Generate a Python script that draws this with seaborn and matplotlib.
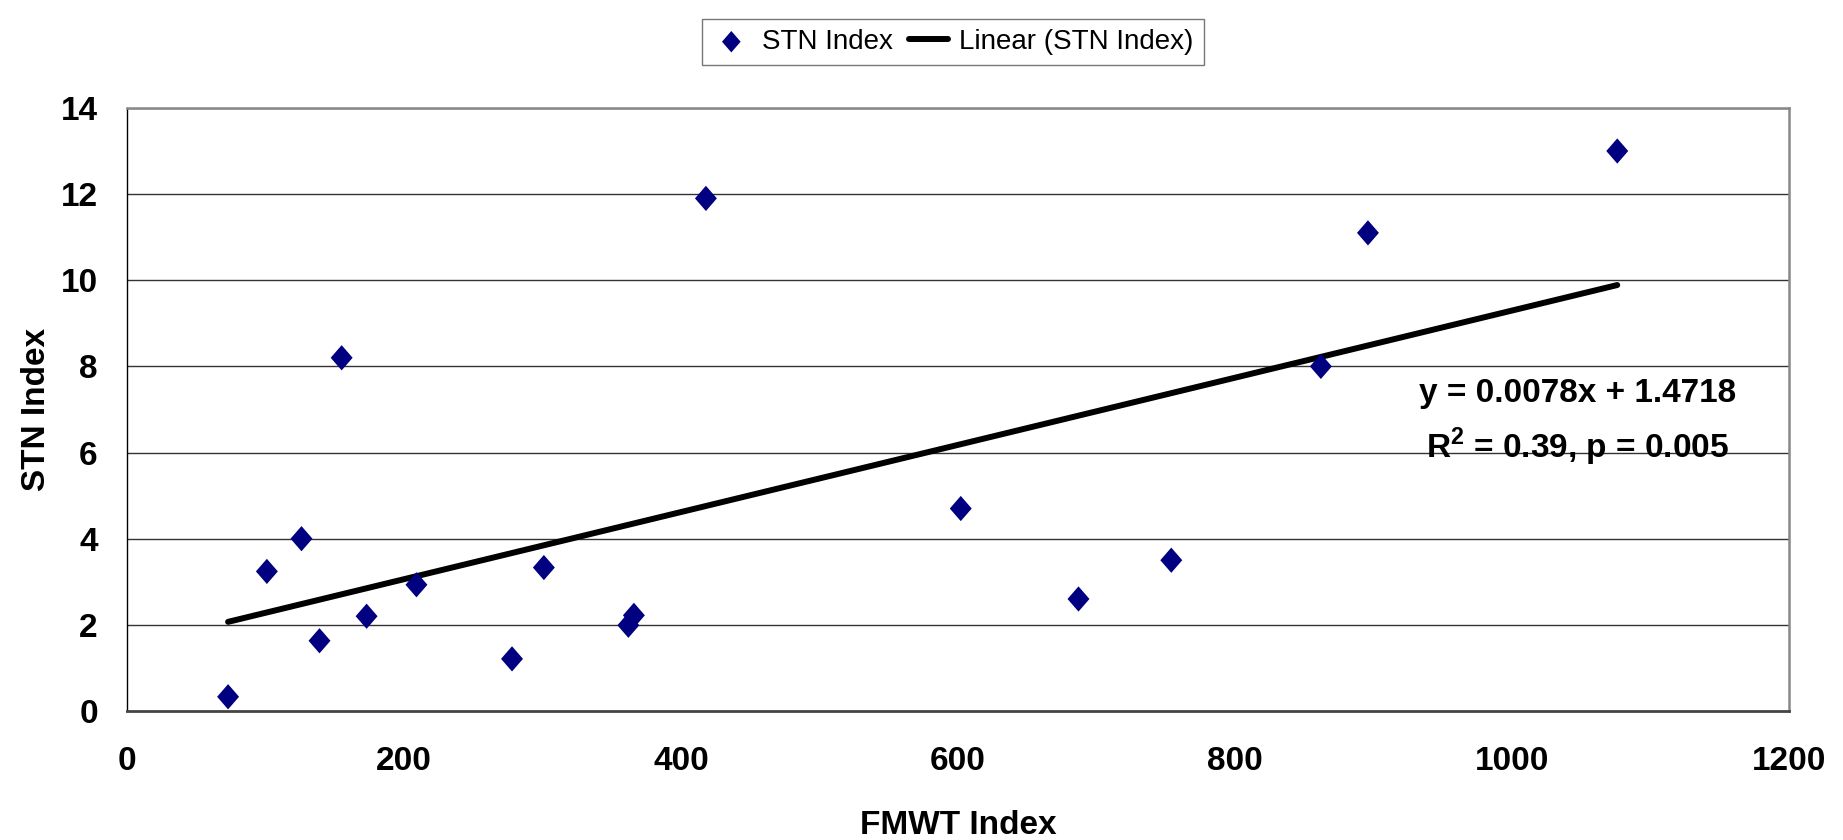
import numpy as np
import pandas as pd
import matplotlib
matplotlib.use("Agg")
import matplotlib.pyplot as plt
import seaborn as sns

# values
fmwt = [73, 101, 126, 139, 155, 173, 209, 278, 301, 362, 366, 418, 602, 687, 754, 862, 896, 1076]
stn = [0.33, 3.24, 4.0, 1.63, 8.2, 2.2, 2.93, 1.21, 3.33, 1.99, 2.22, 11.9, 4.7, 2.6, 3.5, 8.0, 11.1, 13.0]
eq_text = "y = 0.0078x + 1.4718"
r2_text = r"R$^{\bf 2}$ = 0.39, p = 0.005"
x_ticks = [0, 200, 400, 600, 800, 1000, 1200]
y_ticks = [0, 2, 4, 6, 8, 10, 12, 14]

df = pd.DataFrame({"FMWT Index": fmwt, "STN Index": stn})

sns.set_style("white")
plt.rcParams["font.family"] = ["Liberation Sans", "DejaVu Sans"]
plt.rcParams["text.color"] = "black"
plt.rcParams["axes.labelcolor"] = "black"
plt.rcParams["xtick.color"] = "black"
plt.rcParams["ytick.color"] = "black"
plt.rcParams["mathtext.fontset"] = "custom"
plt.rcParams["mathtext.rm"] = "Liberation Sans:bold"
plt.rcParams["mathtext.bf"] = "Liberation Sans:bold"

fig = plt.figure(figsize=(18.43, 8.4), dpi=100)
ax = fig.add_axes([0.0689, 0.1536, 0.9018, 0.7179])

for y in y_ticks[1:]:
    ax.axhline(y, color="#333333", lw=1.0, zorder=0)

# slightly tall diamond, as in the reference
diamond = [(0, 1.15), (1, 0), (0, -1.15), (-1, 0), (0, 1.15)]

sns.regplot(data=df, x="FMWT Index", y="STN Index", scatter=False, ci=None,
            truncate=True, color="black", line_kws={"lw": 4.3}, ax=ax,
            label="Linear (STN Index)")
sns.scatterplot(data=df, x="FMWT Index", y="STN Index", marker=diamond, s=330,
                color="#000080", edgecolor="none", ax=ax, label="STN Index",
                zorder=3)

ax.set_xlim(0, 1200)
ax.set_ylim(0, 14)
ax.set_xticks(x_ticks)
ax.set_yticks(y_ticks)
ax.tick_params(axis="both", direction="out", length=9, width=1.0, color="black",
               labelsize=24)
ax.tick_params(axis="x", pad=16)
ax.tick_params(axis="y", pad=12)
for lbl in ax.get_xticklabels() + ax.get_yticklabels():
    lbl.set_fontweight("bold")

ax.set_xlabel("FMWT Index", fontsize=24, fontweight="bold", labelpad=24)
ax.set_ylabel("STN Index", fontsize=24, fontweight="bold", labelpad=6)

ax.spines["left"].set_color("black")
ax.spines["left"].set_linewidth(1.0)
ax.spines["bottom"].set_color("#444444")
ax.spines["bottom"].set_linewidth(2.0)
ax.spines["top"].set_color("#888888")
ax.spines["top"].set_linewidth(1.8)
ax.spines["right"].set_color("#888888")
ax.spines["right"].set_linewidth(1.8)

ax.text(1047, 7.36, eq_text, ha="center", va="center", fontsize=24, fontweight="bold")
ax.text(1047, 6.12, r2_text, ha="center", va="center", fontsize=24, fontweight="bold")

handles, labels = ax.get_legend_handles_labels()
order = [labels.index("STN Index"), labels.index("Linear (STN Index)")]
ax.legend([handles[i] for i in order], [labels[i] for i in order],
          loc="center", bbox_to_anchor=(0.517, 0.95), bbox_transform=fig.transFigure,
          ncol=2, fontsize=20, frameon=True, fancybox=False, edgecolor="#555555",
          handlelength=1.4, handletextpad=0.4, columnspacing=0.6,
          borderpad=0.35, markerscale=0.85)

fig.savefig("out.png", dpi=100)
